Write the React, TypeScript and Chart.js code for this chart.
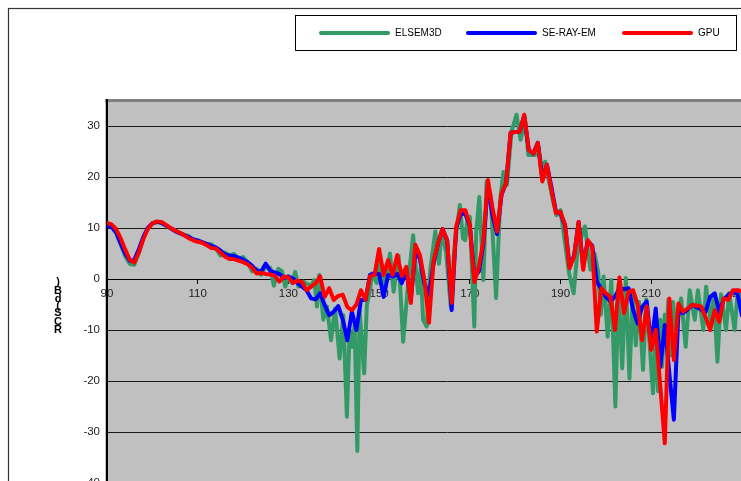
import React, { useEffect, useRef } from "react";
import { Chart, registerables } from "chart.js";

Chart.register(...registerables);

// ---------------- data ----------------
const seriesLabels = ["ELSEM3D", "SE-RAY-EM", "GPU"];
const axisTitleChars = [")", "B", "d", "(", "S", "C", "R"];
const xTickValues = [90, 110, 130, 150, 170, 190, 210, 230];
const yTickValues = [-40, -30, -20, -10, 0, 10, 20, 30];

// angle (deg) for GPU and SE-RAY-EM: 90 .. 232, 1 degree apart
const angles = Array.from({ length: 143 }, (_, i) => 90 + i);

const gpu = [
  11.0, 10.7, 9.8, 8.0, 5.8, 3.8, 3.2, 5.2, 7.8, 9.8,
  10.9, 11.3, 11.2, 10.6, 10.0, 9.5, 9.1, 8.6, 8.0, 7.6,
  7.3, 7.1, 6.6, 6.1, 6.0, 5.2, 4.4, 3.9, 3.9, 3.6,
  3.3, 2.9, 2.2, 1.1, 1.2, 1.0, 0.9, 0.6, -0.5, 0.5,
  0.3, -0.8, -0.3, -0.6, -2.2, -1.5, -0.8, 0.5, -3.5, -1.8,
  -4.1, -3.3, -3.1, -5.5, -6.1, -5.0, -2.2, -4.1, 0.5, 0.8,
  5.9, 0.8, 3.7, 0.8, 4.7, 0.6, 2.4, -4.7, 6.7, 4.7,
  -0.2, -8.6, 3.5, 7.0, 9.8, 7.6, -4.7, 10.3, 13.5, 13.5,
  10.6, -0.6, 2.4, 7.6, 19.4, 14.0, 9.3, 16.8, 18.8, 28.7,
  28.8, 28.9, 32.2, 25.3, 24.6, 26.7, 19.1, 22.4, 17.5, 12.9,
  13.2, 10.6, 2.1, 4.4, 11.2, 1.8, 7.6, 6.3, -10.3, -1.8,
  -2.8, -3.5, -10.0, 0.3, -6.7, -2.5, -2.2, -5.0, -12.0, -5.4,
  -13.9, -10.0, -21.0, -32.2, -3.8, -15.9, -4.8, -6.4, -5.8, -5.1,
  -5.2, -5.4, -7.5, -10.0, -6.1, -8.4, -3.8, -4.1, -2.2, -2.2,
  -2.4, -2.0, -2.5,
];

const seRayEm = [
  10.5, 10.2, 9.2, 7.0, 5.0, 3.6, 3.7, 5.8, 8.2, 10.0,
  10.9, 11.2, 11.0, 10.5, 10.0, 9.4, 9.0, 8.6, 8.2, 7.8,
  7.5, 7.2, 6.9, 6.5, 6.2, 5.6, 4.8, 4.6, 4.5, 4.2,
  3.8, 3.3, 2.6, 1.6, 1.5, 3.0, 1.6, 1.3, 1.0, 0.2,
  0.5, 0.1, -0.8, -1.5, -2.2, -3.8, -4.0, -2.8, -5.1, -7.1,
  -6.4, -5.3, -8.0, -12.0, -6.4, -10.0, -4.1, -4.1, 0.8, 1.1,
  1.0, -3.5, 0.8, 0.5, 1.0, -0.8, 1.5, -4.0, 5.5, 4.0,
  -1.0, -3.0, 3.0, 7.0, 9.8, 7.6, -6.1, 10.0, 12.8, 12.8,
  10.5, 0.5, 1.5, 7.0, 18.5, 12.5, 8.8, 16.5, 18.8, 28.7,
  28.8, 28.9, 32.0, 25.3, 24.6, 26.7, 19.5, 22.4, 18.0, 13.2,
  12.8, 10.6, 2.5, 4.6, 11.2, 2.5, 7.5, 6.5, -0.5, -2.0,
  -3.5, -4.4, -3.5, -1.8, -2.0, -1.8, -6.0, -8.7, -5.5, -4.4,
  -13.0, -5.8, -17.2, -9.0, -18.5, -27.6, -6.4, -6.7, -6.0, -5.1,
  -5.5, -6.0, -6.4, -3.5, -2.8, -6.4, -4.0, -3.1, -2.6, -2.8,
  -7.1, -4.0, -3.0,
];

const elsemAngles = [
  90, 91, 92, 93, 94, 95, 96, 97, 98, 99,
  100, 101, 102, 103, 104, 105, 106, 107, 108, 109,
  110, 111, 112, 113, 114, 115, 116, 117, 118, 119,
  120, 121, 122, 123, 124, 125,
  126, 126.8, 127.8, 128.6, 129.3, 130, 130.8, 131.5, 132.2, 133.3,
  134.2, 135.1, 135.7, 136.3, 136.8, 137.7, 138.5, 139.4, 140.3, 141.3,
  142.1, 142.9, 143.5, 144.0, 144.6, 145.2, 145.7, 146.7, 147.3, 148.0,
  148.4, 149.5, 150.2, 151.3, 152.4, 153.2, 154.3, 155.3, 156.4, 157.5,
  158.6, 159.2, 159.7, 160.5, 161.3, 162.4, 163.2, 163.8, 164.8, 165.8,
  166.6, 167.8, 168.5, 169.0, 169.5, 170.0, 171.0, 171.4, 172.1, 173.0,
  173.7, 174.6, 175.8, 176.7, 177.4, 178.2, 179.2, 180.3, 181.2, 182.2,
  182.9, 184.4, 185.0, 186.0, 186.6, 187.5, 188.3, 189.1, 190.0, 190.7,
  191.9, 192.9, 193.8, 194.5, 195.4, 196.6, 197.5, 198.3, 198.9, 199.5,
  200.4, 201.2, 202.1, 202.8, 203.6, 204.4, 205.2, 205.9, 206.6, 207.3,
  208.2, 208.9, 209.6, 210.4, 211.0, 211.5, 212.0, 212.4, 213.0, 213.3,
  213.8, 214.3, 214.8, 215.5, 216.6, 217.6, 218.5, 219.6, 220.3, 221.5,
  222.1, 223.2, 223.8, 224.6, 225.4, 226.5, 227.2, 228.4, 229.1, 229.8,
  230.5, 231.5, 232.5,
];

const elsem3d = [
  10.6, 10.3, 9.0, 6.8, 4.5, 3.0, 2.8, 5.0, 8.0, 9.9,
  10.9, 11.2, 11.1, 10.5, 9.9, 9.5, 9.0, 8.7, 8.4, 7.7,
  7.6, 7.3, 6.8, 6.8, 6.0, 4.6, 5.2, 4.6, 4.9, 4.0,
  4.3, 3.3, 1.5, 2.0, 0.8, 2.5,
  2.2, -1.3, 2.0, 1.5, -1.5, 0.5, -0.8, 1.4, -1.5, -0.5,
  -1.0, -1.2, -0.2, -5.4, 0.8, -8.0, -5.4, -12.0, -5.8, -15.6,
  -7.1, -27.0, -10.0, -13.3, -9.0, -33.7, -6.1, -18.5, -5.1, -2.2,
  1.1, -0.8, 4.1, -2.2, 5.0, -2.5, 4.5, -12.3, -0.8, 8.6,
  -2.8, 2.0, -8.0, -9.3, 2.0, 9.3, 3.0, 9.6, 5.0, -5.4,
  6.0, 14.5, 8.0, 7.6, 12.0, 12.2, -9.3, 9.0, 16.1, -0.2,
  19.1, 16.1, -3.7, 15.5, 21.0, 18.5, 28.9, 32.2, 27.3, 31.2,
  24.3, 24.3, 26.5, 21.0, 23.0, 19.0, 15.5, 12.5, 13.5, 9.0,
  1.1, -2.8, 6.0, 8.0, 10.3, 1.8, 5.0, 1.4, -7.0, 0.5,
  -11.3, -0.2, -25.0, -1.0, -17.5, 0.2, -19.5, -3.0, -13.0, -4.5,
  -17.8, -4.0, -12.0, -22.4, -10.0, -22.0, -8.0, -17.2, -7.0, -11.0,
  -4.0, -15.0, -4.5, -10.3, -3.8, -13.3, -2.2, -8.0, -2.2, -10.0,
  -1.5, -9.0, -3.0, -16.2, -3.0, -10.0, -2.8, -10.0, -2.2, -4.0,
  -10.0, -3.0, -8.0,
];

// ---------------- layout constants ----------------
const CANVAS_W = 800;
const CANVAS_H = 560;
const X_MIN = 90;
const X_MAX = 240;
const PX_PER_DEG = 4.535;
const PLOT_LEFT = 107;
const PLOT_TOP = 100;
const Y_MIN = -50;
const Y_MAX = 35.1;
const PX_PER_DB = 5.1;
const FONT = "'Liberation Sans', Arial, Helvetica, sans-serif";

const COLORS = { elsem: "#339966", seray: "#0000FF", gpu: "#FF0000" };

const decorPlugin = {
  id: "decor",
  beforeDraw(chart: any) {
    const { ctx, chartArea } = chart;
    ctx.save();
    ctx.fillStyle = "#FFFFFF";
    ctx.fillRect(0, 0, chart.width, chart.height);

    // outer chart frame
    ctx.strokeStyle = "#333333";
    ctx.lineWidth = 1.2;
    ctx.strokeRect(8.5, 8.5, chart.width + 20, chart.height + 20);

    // plot wall
    ctx.fillStyle = "#C0C0C0";
    ctx.fillRect(chartArea.left - 2, chartArea.top, chartArea.right - chartArea.left + 2, chartArea.bottom - chartArea.top);
    ctx.fillStyle = "#808080";
    ctx.fillRect(chartArea.left - 2, chartArea.top - 1, chartArea.right - chartArea.left + 2, 3);

    // legend box
    ctx.strokeStyle = "#000000";
    ctx.lineWidth = 1;
    ctx.strokeRect(295.5, 15.5, 441, 35);
    const items = [
      { label: seriesLabels[0], color: COLORS.elsem, x: 321 },
      { label: seriesLabels[1], color: COLORS.seray, x: 468 },
      { label: seriesLabels[2], color: COLORS.gpu, x: 624 },
    ];
    ctx.font = `10px ${FONT}`;
    ctx.textBaseline = "middle";
    ctx.textAlign = "left";
    items.forEach((it) => {
      ctx.strokeStyle = it.color;
      ctx.lineWidth = 4;
      ctx.lineCap = "round";
      ctx.beginPath();
      ctx.moveTo(it.x, 33);
      ctx.lineTo(it.x + 67, 33);
      ctx.stroke();
      ctx.fillStyle = "#000000";
      ctx.fillText(it.label, it.x + 74, 33.5);
    });
    ctx.restore();
  },
  afterDraw(chart: any) {
    const { ctx } = chart;
    ctx.save();
    ctx.font = `bold 11px ${FONT}`;
    ctx.fillStyle = "#000000";
    ctx.textAlign = "center";
    ctx.textBaseline = "middle";
    const ys = [282, 290.5, 299, 305.5, 313, 321.5, 329.5];
    axisTitleChars.forEach((ch, i) => ctx.fillText(ch, 58, ys[i]));
    ctx.restore();
  },
};

export default function App() {
  const canvasRef = useRef<HTMLCanvasElement | null>(null);

  useEffect(() => {
    const canvas = canvasRef.current;
    if (!canvas) return;
    const plotRight = PLOT_LEFT + (X_MAX - X_MIN) * PX_PER_DEG;
    const plotBottom = PLOT_TOP + (Y_MAX - Y_MIN) * PX_PER_DB;

    const lineStyle = {
      borderWidth: 4,
      pointRadius: 0,
      pointHoverRadius: 0,
      tension: 0,
      fill: false,
      borderJoinStyle: "round" as const,
      borderCapStyle: "round" as const,
    };

    const chart = new Chart(canvas, {
      type: "line",
      data: {
        datasets: [
          {
            ...lineStyle,
            label: seriesLabels[2],
            data: angles.map((x, i) => ({ x, y: gpu[i] })),
            borderColor: COLORS.gpu,
            backgroundColor: COLORS.gpu,
            order: 0,
          },
          {
            ...lineStyle,
            label: seriesLabels[1],
            data: angles.map((x, i) => ({ x, y: seRayEm[i] })),
            borderColor: COLORS.seray,
            backgroundColor: COLORS.seray,
            order: 1,
          },
          {
            ...lineStyle,
            label: seriesLabels[0],
            data: elsemAngles.map((x, i) => ({ x, y: elsem3d[i] })),
            borderColor: COLORS.elsem,
            backgroundColor: COLORS.elsem,
            order: 2,
          },
        ],
      },
      options: {
        responsive: false,
        animation: false,
        devicePixelRatio: 1,
        events: [],
        layout: {
          padding: {
            left: 0,
            top: PLOT_TOP,
            right: CANVAS_W - plotRight,
            bottom: CANVAS_H - plotBottom,
          },
        },
        plugins: {
          legend: { display: false },
          title: { display: false },
          tooltip: { enabled: false },
        },
        scales: {
          x: {
            type: "linear",
            min: X_MIN,
            max: X_MAX,
            position: { y: 0 } as any,
            afterFit: (s: any) => {
              s.height = 0;
            },
            afterBuildTicks: (s: any) => {
              s.ticks = xTickValues.map((v) => ({ value: v }));
            },
            ticks: {
              autoSkip: false,
              maxRotation: 0,
              padding: 4,
              color: "#222222",
              font: { family: FONT, size: 11.5 },
            },
            grid: {
              drawOnChartArea: false,
              drawTicks: true,
              tickLength: 4,
              color: "#000000",
              lineWidth: 1,
            },
            border: { display: true, color: "#000000", width: 1 },
          },
          y: {
            type: "linear",
            min: Y_MIN,
            max: Y_MAX,
            afterFit: (s: any) => {
              s.width = PLOT_LEFT;
            },
            afterBuildTicks: (s: any) => {
              s.ticks = yTickValues.map((v) => ({ value: v }));
            },
            ticks: {
              padding: 7,
              color: "#222222",
              font: { family: FONT, size: 11.5 },
            },
            grid: { color: "#1a1a1a", lineWidth: 1, drawTicks: false },
            border: { display: true, color: "#000000", width: 2 },
          },
        },
      } as any,
      plugins: [decorPlugin],
    });

    return () => chart.destroy();
  }, []);

  return (
    <div
      style={{
        position: "fixed",
        left: 0,
        top: 0,
        width: 741,
        height: 481,
        overflow: "hidden",
        background: "#FFFFFF",
      }}
    >
      <canvas
        ref={canvasRef}
        width={CANVAS_W}
        height={CANVAS_H}
        style={{ display: "block", width: CANVAS_W, height: CANVAS_H }}
      />
    </div>
  );
}
